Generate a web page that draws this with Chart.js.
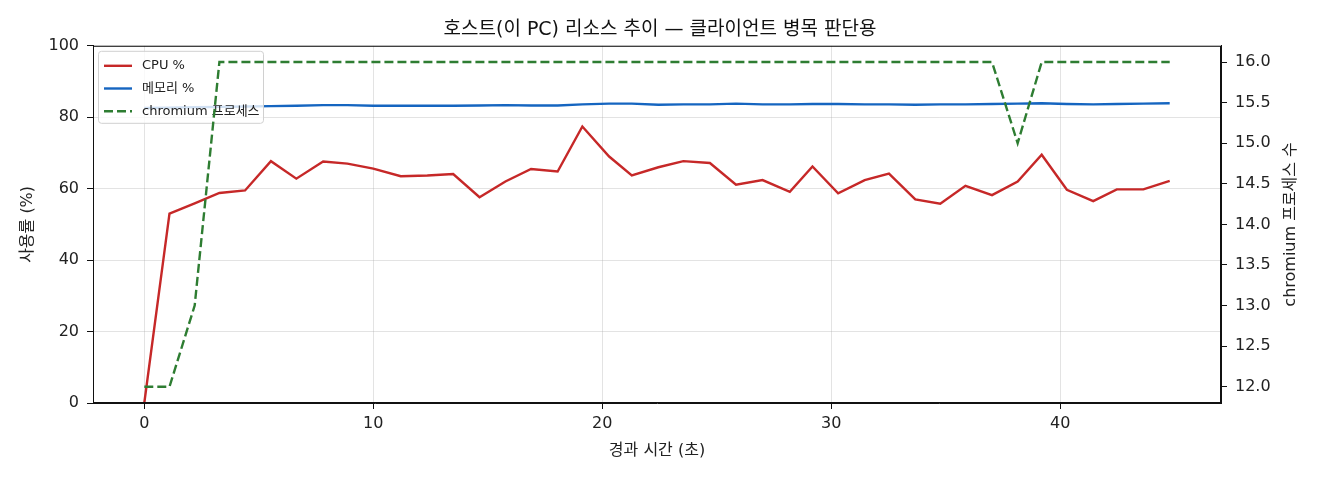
<!DOCTYPE html>
<html lang="ko">
<head>
<meta charset="utf-8">
<title>호스트 리소스 추이</title>
<script src="https://cdn.jsdelivr.net/npm/chart.js@4.4.1/dist/chart.umd.min.js"></script>
<style>
  html, body { margin: 0; padding: 0; background: #fff; }
  canvas { display: block; }
</style>
</head>
<body>
<canvas id="resourceChart" width="1320" height="480"></canvas>
<script>
// Sample times (seconds since start)
const timeSec = [0, 1.10, 2.20, 3.28, 4.40, 5.53, 6.64, 7.81, 8.87, 10.0,
  11.2, 12.36, 13.49, 14.64, 15.77, 16.89, 18.05, 19.13, 20.3, 21.29,
  22.45, 23.54, 24.7, 25.84, 27.0, 28.19, 29.18, 30.3, 31.46, 32.52,
  33.67, 34.76, 35.86, 37.02, 38.14, 39.19, 40.29, 41.44, 42.47, 43.63, 44.78];

// CPU usage %
const cpuPct = [0, 53.0, 55.9, 58.8, 59.5, 67.7, 62.8, 67.6, 67.0, 65.6,
  63.5, 63.7, 64.1, 57.6, 62.0, 65.5, 64.8, 77.4, 69.0, 63.7,
  66.0, 67.7, 67.2, 61.1, 62.4, 59.1, 66.2, 58.7, 62.4, 64.2,
  57.0, 55.8, 60.8, 58.2, 62.0, 69.5, 59.7, 56.5, 59.8, 59.8, 62.2];

// Memory usage %
const memPct = [82.6, 82.7, 82.8, 82.9, 83.0, 83.1, 83.2, 83.4, 83.4, 83.2,
  83.2, 83.2, 83.2, 83.3, 83.4, 83.3, 83.3, 83.6, 83.8, 83.8,
  83.5, 83.6, 83.6, 83.8, 83.6, 83.6, 83.7, 83.7, 83.6, 83.6,
  83.5, 83.6, 83.6, 83.7, 83.8, 83.9, 83.7, 83.6, 83.7, 83.8, 83.9];

// Number of chromium processes
const chromiumCount = [12, 12, 13, 16, 16, 16, 16, 16, 16, 16,
  16, 16, 16, 16, 16, 16, 16, 16, 16, 16,
  16, 16, 16, 16, 16, 16, 16, 16, 16, 16,
  16, 16, 16, 16, 15, 16, 16, 16, 16, 16, 16];

// Tick labels
const xTicks = [0, 10, 20, 30, 40];
const pctTicks = [0, 20, 40, 60, 80, 100];
const procTicks = [12.0, 12.5, 13.0, 13.5, 14.0, 14.5, 15.0, 15.5, 16.0];

const FONT = '"DejaVu Sans", "Noto Sans CJK KR", sans-serif';
const TEXT = '#222';
const RIGHT_TITLE = 'chromium 프로세스 수';

function toPoints(values) {
  return values.map((v, i) => ({ x: timeSec[i], y: v }));
}

// Frame around the plot area (matplotlib style spines)
const framePlugin = {
  id: 'frame',
  afterDatasetsDraw(chart) {
    const { ctx, chartArea: a } = chart;
    ctx.save();
    ctx.strokeStyle = '#111';
    ctx.lineWidth = 1;
    ctx.strokeRect(a.left + 0.5, a.top + 0.5, a.right - a.left - 1, a.bottom - a.top - 1);
    ctx.restore();
  }
};

// Right axis title, reading bottom to top like the left one
const rightTitlePlugin = {
  id: 'rightTitle',
  afterDraw(chart) {
    const { ctx, chartArea: a } = chart;
    ctx.save();
    ctx.translate(1291, (a.top + a.bottom) / 2);
    ctx.rotate(-Math.PI / 2);
    ctx.font = '16px ' + FONT;
    ctx.fillStyle = TEXT;
    ctx.textAlign = 'center';
    ctx.textBaseline = 'middle';
    ctx.fillText(RIGHT_TITLE, 0, 0);
    ctx.restore();
  }
};

// Legend box inside the plot, top-left. It belongs to the left axis, so the
// twin-axis (chromium) line is drawn over it.
const legendPlugin = {
  id: 'boxLegend',
  beforeDatasetDraw(chart, args) {
    if (chart.data.datasets[args.index].yAxisID !== 'y1') return;
    const { ctx, chartArea: a } = chart;
    const x = a.left + 5, y = a.top + 5, w = 165, h = 72;
    ctx.save();
    ctx.beginPath();
    ctx.roundRect(x + 0.5, y + 0.5, w, h, 3);
    ctx.fillStyle = 'rgba(255,255,255,0.8)';
    ctx.fill();
    ctx.strokeStyle = '#d0d0d0';
    ctx.lineWidth = 1;
    ctx.stroke();

    ctx.font = '13px ' + FONT;
    ctx.textBaseline = 'middle';
    chart.data.datasets.forEach((ds, i) => {
      const rowY = y + 15 + i * 22.7;
      ctx.beginPath();
      ctx.setLineDash(ds.borderDash || []);
      ctx.strokeStyle = ds.borderColor;
      ctx.lineWidth = ds.borderWidth;
      ctx.moveTo(x + 6, rowY);
      ctx.lineTo(x + 34, rowY);
      ctx.stroke();
      ctx.setLineDash([]);
      ctx.fillStyle = TEXT;
      ctx.fillText(ds.label, x + 44, rowY);
    });
    ctx.restore();
  }
};

const ctx = document.getElementById('resourceChart').getContext('2d');
const chart = new Chart(ctx, {
  type: 'line',
  data: {
    datasets: [
      {
        label: 'CPU %',
        data: toPoints(cpuPct),
        borderColor: '#c62828',
        borderWidth: 2.4,
        order: 1,
        yAxisID: 'y'
      },
      {
        label: '메모리 %',
        data: toPoints(memPct),
        borderColor: '#1565c0',
        borderWidth: 2.4,
        order: 2,
        yAxisID: 'y'
      },
      {
        label: 'chromium 프로세스',
        data: toPoints(chromiumCount),
        borderColor: '#2e7d32',
        borderWidth: 2.4,
        borderDash: [9, 4],
        order: 0,
        yAxisID: 'y1'
      }
    ]
  },
  options: {
    responsive: false,
    animation: false,
    devicePixelRatio: 1,
    layout: { padding: 0 },
    elements: {
      point: { radius: 0 },
      line: { tension: 0, fill: false }
    },
    plugins: {
      legend: { display: false },
      tooltip: { enabled: false },
      title: {
        display: true,
        text: '호스트(이 PC) 리소스 추이 — 클라이언트 병목 판단용',
        color: '#111',
        font: { family: FONT, size: 19, weight: 'normal' },
        padding: { top: 19, bottom: 4 }
      }
    },
    scales: {
      x: {
        type: 'linear',
        min: -2.24,
        max: 47.02,
        afterBuildTicks: scale => { scale.ticks = xTicks.map(v => ({ value: v })); },
        afterFit: scale => { scale.height = 77; },
        ticks: {
          color: TEXT,
          font: { family: FONT, size: 16 },
          padding: 5,
          maxRotation: 0,
          callback: v => String(v)
        },
        grid: { color: 'rgba(176,176,176,0.35)', tickColor: '#111', tickLength: 6 },
        border: { display: true, color: '#111' },
        title: {
          display: true,
          text: '경과 시간 (초)',
          color: TEXT,
          font: { family: FONT, size: 16 },
          padding: { top: 0, bottom: 20 }
        }
      },
      y: {
        position: 'left',
        min: 0,
        max: 100,
        afterBuildTicks: scale => { scale.ticks = pctTicks.map(v => ({ value: v })); },
        afterFit: scale => { scale.width = 93; },
        ticks: {
          color: TEXT,
          font: { family: FONT, size: 16 },
          padding: 8,
          callback: v => String(v)
        },
        grid: { color: 'rgba(176,176,176,0.35)', tickColor: '#111', tickLength: 6 },
        border: { display: true, color: '#111' },
        title: {
          display: true,
          text: '사용률 (%)',
          color: TEXT,
          font: { family: FONT, size: 16 },
          padding: { top: 18, bottom: 0 }
        }
      },
      y1: {
        position: 'right',
        min: 11.8,
        max: 16.2,
        afterBuildTicks: scale => { scale.ticks = procTicks.map(v => ({ value: v })); },
        afterFit: scale => { scale.width = 99; },
        ticks: {
          color: TEXT,
          font: { family: FONT, size: 16 },
          padding: 8,
          callback: v => Number(v).toFixed(1)
        },
        grid: { drawOnChartArea: false, tickColor: '#111', tickLength: 6 },
        border: { display: true, color: '#111' },
        title: { display: false }
      }
    }
  },
  plugins: [framePlugin, legendPlugin, rightTitlePlugin]
});
</script>
</body>
</html>
